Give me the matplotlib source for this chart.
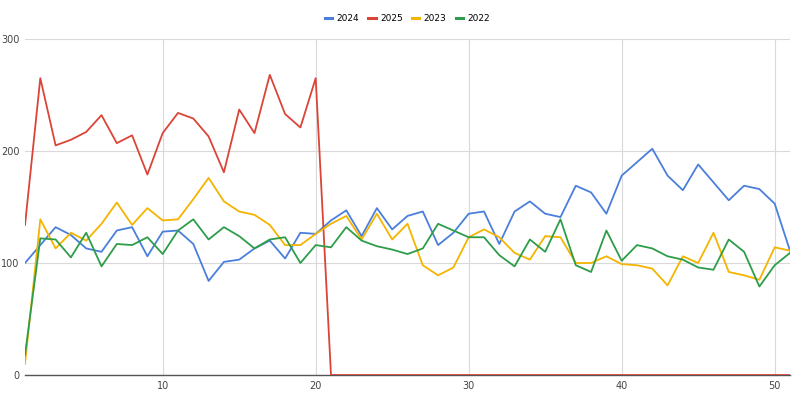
import matplotlib.pyplot as plt
import numpy as np

weeks = np.arange(1, 52)

sales_2024 = [100, 116, 132, 125, 113, 110, 129, 132, 106, 128, 129, 117, 84, 101, 103, 113,
              120, 104, 127, 126, 138, 147, 124, 149, 130, 142, 146, 116, 127, 144, 146, 117,
              146, 155, 144, 141, 169, 163, 144, 178, 190, 202, 178, 165, 188, 172, 156, 169,
              166, 153, 111]
sales_2025 = [134, 265, 205, 210, 217, 232, 207, 214, 179, 216, 234, 229, 213, 181, 237, 216,
              268, 233, 221, 265] + [0] * 31
sales_2023 = [10, 139, 113, 127, 120, 135, 154, 134, 149, 138, 139, 157, 176, 155, 146, 143,
              134, 116, 116, 126, 135, 142, 121, 144, 121, 135, 98, 89, 96, 123, 130, 123,
              109, 103, 124, 123, 100, 100, 106, 99, 98, 95, 80, 106, 100, 127, 92, 89, 85,
              114, 111]
sales_2022 = [18, 122, 121, 105, 127, 97, 117, 116, 123, 108, 129, 139, 121, 132, 124, 113,
              121, 123, 100, 116, 114, 132, 120, 115, 112, 108, 113, 135, 129, 123, 123, 107,
              97, 121, 110, 139, 98, 92, 129, 102, 116, 113, 106, 103, 96, 94, 121, 110, 79,
              98, 109]

series = [
    ("2024", sales_2024, "#4a7fdc"),
    ("2025", sales_2025, "#db4437"),
    ("2023", sales_2023, "#f4b400"),
    ("2022", sales_2022, "#2e9d4a"),
]

fig = plt.figure(figsize=(7.99, 3.95), dpi=100)
ax = fig.add_axes([0.0313, 0.0506, 0.9574, 0.8507])

for name, vals, col in series:
    ax.plot(weeks, vals, color=col, linewidth=1.3, label=name, zorder=3)

ax.set_xlim(1, 51)
ax.set_ylim(0, 300)
ax.set_xticks([10, 20, 30, 40, 50])
ax.set_yticks([0, 100, 200, 300])
ax.grid(True, color="#d9d9d9", linewidth=0.8, zorder=0)
for s in ["top", "right", "left"]:
    ax.spines[s].set_visible(False)
ax.spines["bottom"].set_color("#555555")
ax.spines["bottom"].set_linewidth(1)
ax.tick_params(length=0, labelsize=7, colors="#444444", pad=4)

leg = ax.legend(loc="center", bbox_to_anchor=(0.5, 1.06), ncol=4, frameon=False,
                fontsize=6.5, handlelength=0.8, handletextpad=0.5, columnspacing=1.0)
for line in leg.get_lines():
    line.set_linewidth(2.2)

fig.savefig("out.png", dpi=100)
